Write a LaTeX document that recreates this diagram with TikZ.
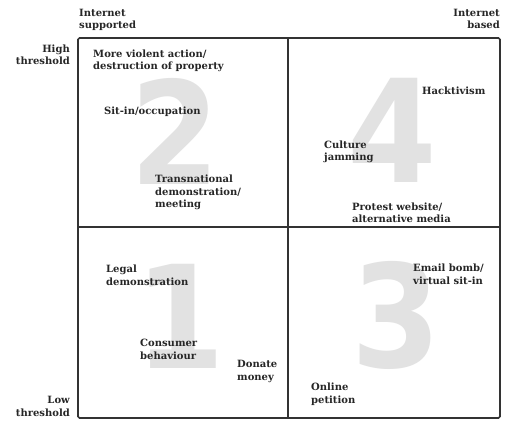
\documentclass[tikz,border=0pt]{standalone}
\usepackage{fontspec}
\setmainfont{DejaVu Serif}
\newfontfamily\bignum{DejaVu Sans Condensed}
\definecolor{framec}{HTML}{333333}
\definecolor{numc}{HTML}{E2E2E2}
\definecolor{textc}{HTML}{262626}
\begin{document}
\begin{tikzpicture}[x=1pt,y=-1pt,
  lbl/.style={font=\bfseries\fontsize{10}{12.5}\selectfont, text=textc, inner sep=0pt, align=left, anchor=base west},
  rlbl/.style={font=\bfseries\fontsize{10}{12.5}\selectfont, text=textc, inner sep=0pt, align=right, anchor=base east},
  num/.style={font=\bignum\bfseries\fontsize{143}{143}\selectfont, text=numc, inner sep=0pt, anchor=center},
  frame/.style={draw=framec, line width=1.6pt, rounded corners=1.5pt},
  divider/.style={draw=framec, line width=1.1pt}]
\useasboundingbox (0,0) rectangle (506,422);
\fill[white] (0,0) rectangle (506,422);
% big numbers
\node[num] (n2) at (175,131) {2};
\node[num] (n4) at (392,130) {4};
\node[num] (n1) at (180,316) {1};
\node[num] (n3) at (396,315) {3};
% frame
\coordinate (tl) at (78,38);
\coordinate (br) at (500,418);
\coordinate (mt) at (288,38);
\coordinate (mb) at (288,418);
\coordinate (ml) at (78,227);
\coordinate (mr) at (500,227);
\draw[divider] (mt) -- (mb);
\draw[divider] (ml) -- (mr);
\draw[frame] (tl) rectangle (br);
% axis labels (anchor = baseline of last line)
\node[lbl] (isup) at (79,29) {Internet\\supported};
\node[rlbl] (ibas) at (500,29) {Internet\\based};
\node[rlbl] (high) at (70,65) {High\\threshold};
\node[rlbl] (low) at (70,416) {Low\\threshold};
% quadrant 2
\node[lbl] (viol) at (93,70) {More violent action/\\destruction of property};
\node[lbl] (sit) at (104,115) {Sit-in/occupation};
\node[lbl] (trans) at (155,208) {Transnational\\demonstration/\\meeting};
% quadrant 4
\node[lbl] (hack) at (422,95) {Hacktivism};
\node[lbl] (cult) at (324,161) {Culture\\jamming};
\node[lbl] (prot) at (352,223) {Protest website/\\alternative media};
% quadrant 1
\node[lbl] (legal) at (106,285) {Legal\\demonstration};
\node[lbl] (cons) at (140,359) {Consumer\\behaviour};
\node[lbl] (don) at (237,380) {Donate\\money};
% quadrant 3
\node[lbl] (email) at (413,284) {Email bomb/\\virtual sit-in};
\node[lbl] (onl) at (311,403) {Online\\petition};
\end{tikzpicture}
\end{document}
